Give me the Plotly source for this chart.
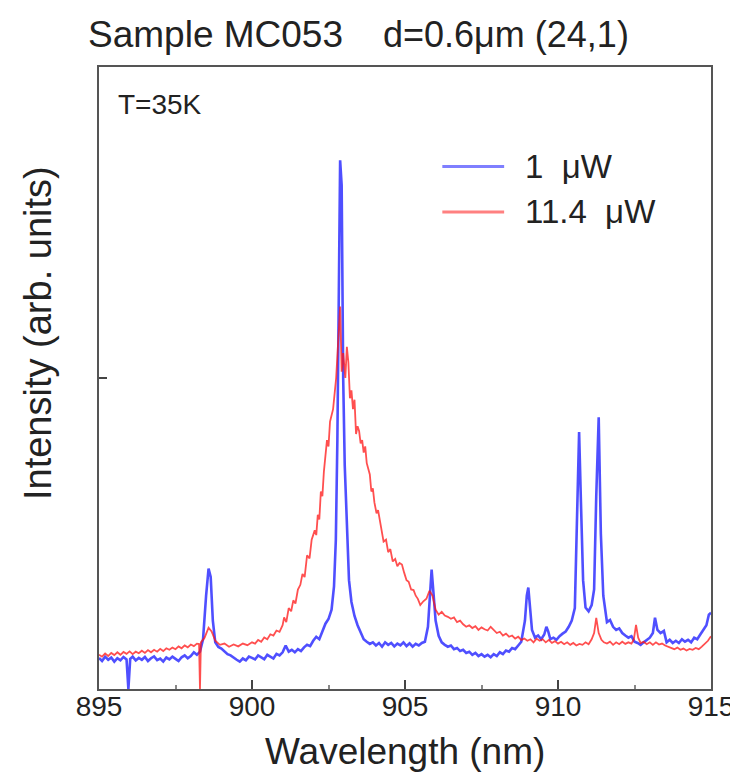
import plotly.graph_objects as go

# ---- data ----
blue_wl = [895.0, 895.1, 895.2, 895.3, 895.4, 895.5, 895.6, 895.7, 895.8, 895.9, 895.96, 896.02,
           896.1, 896.2, 896.3, 896.4, 896.5, 896.6, 896.7, 896.8, 896.9, 897.0, 897.1, 897.2,
           897.3, 897.4, 897.5, 897.6, 897.7, 897.8, 897.9, 898.0, 898.1, 898.2, 898.3,
           898.4, 898.5, 898.58, 898.65, 898.72, 898.8, 898.9, 899.0, 899.1, 899.2, 899.3, 899.4,
           899.5, 899.6, 899.7, 899.8, 899.9, 900.0, 900.1, 900.2, 900.3, 900.4, 900.5, 900.6,
           900.7, 900.8, 900.9, 901.0, 901.1, 901.2, 901.3, 901.4, 901.5, 901.6, 901.7, 901.8,
           901.9, 902.0, 902.1, 902.2, 902.3, 902.4, 902.5, 902.6, 902.68, 902.74, 902.79, 902.84,
           902.88, 902.93, 902.98, 903.03, 903.1, 903.17, 903.25, 903.35, 903.45, 903.55, 903.65, 903.75,
           903.85, 903.95, 904.05, 904.15, 904.25, 904.35, 904.45, 904.55, 904.65, 904.75, 904.85, 904.95,
           905.05, 905.15, 905.25, 905.35, 905.45, 905.55, 905.65, 905.75, 905.82, 905.87, 905.93, 906.0,
           906.1, 906.2, 906.3, 906.4, 906.5, 906.6, 906.7, 906.8, 906.9, 907.0, 907.1, 907.2,
           907.3, 907.4, 907.5, 907.6, 907.7, 907.8, 907.9, 908.0, 908.1, 908.2, 908.3, 908.4,
           908.5, 908.6, 908.7, 908.8, 908.92, 908.98, 909.03, 909.08, 909.15, 909.25, 909.35, 909.45,
           909.55, 909.62, 909.68, 909.75, 909.85, 909.95, 910.05, 910.15, 910.25, 910.35, 910.45, 910.55,
           910.62, 910.69, 910.75, 910.82, 910.9, 911.0, 911.1, 911.18, 911.25, 911.33, 911.4, 911.48,
           911.6, 911.7, 911.8, 911.9, 912.0, 912.1, 912.2, 912.3, 912.4, 912.5, 912.6, 912.7,
           912.8, 912.9, 913.0, 913.1, 913.17, 913.25, 913.35, 913.46, 913.55, 913.65, 913.75, 913.85,
           913.95, 914.05, 914.15, 914.25, 914.35, 914.45, 914.55, 914.65, 914.75, 914.85, 914.93, 915.0]
blue_int = [0.100, 0.090, 0.104, 0.094, 0.101, 0.088, 0.099, 0.092, 0.103, 0.095, 0.000, 0.097,
            0.104, 0.092, 0.100, 0.094, 0.103, 0.090, 0.099, 0.105, 0.093, 0.098, 0.088, 0.101,
            0.095, 0.104, 0.097, 0.090, 0.102, 0.108, 0.099, 0.106, 0.118, 0.110, 0.120,
            0.160, 0.300, 0.387, 0.360, 0.220, 0.150, 0.135, 0.130, 0.122, 0.112, 0.108, 0.100,
            0.094, 0.088, 0.098, 0.092, 0.104, 0.100, 0.095, 0.108, 0.101, 0.096, 0.110, 0.104,
            0.098, 0.113, 0.108, 0.118, 0.140, 0.120, 0.126, 0.118, 0.128, 0.122, 0.134, 0.142,
            0.138, 0.155, 0.168, 0.160, 0.185, 0.210, 0.225, 0.255, 0.330, 0.480, 0.800, 1.250,
            1.700, 1.620, 1.000, 0.720, 0.500, 0.350, 0.280, 0.235, 0.205, 0.180, 0.160, 0.152,
            0.145, 0.150, 0.140, 0.148, 0.136, 0.150, 0.142, 0.148, 0.137, 0.146, 0.140, 0.150,
            0.138, 0.147, 0.136, 0.145, 0.140, 0.148, 0.152, 0.200, 0.330, 0.384, 0.310, 0.220,
            0.171, 0.150, 0.142, 0.136, 0.140, 0.128, 0.132, 0.122, 0.126, 0.116, 0.120, 0.110,
            0.116, 0.106, 0.112, 0.104, 0.110, 0.102, 0.112, 0.106, 0.118, 0.112, 0.124, 0.120,
            0.132, 0.128, 0.140, 0.152, 0.220, 0.300, 0.326, 0.260, 0.190, 0.165, 0.172, 0.160,
            0.175, 0.200, 0.185, 0.160, 0.165, 0.158, 0.170, 0.178, 0.185, 0.200, 0.220, 0.260,
            0.550, 0.826, 0.600, 0.350, 0.262, 0.250, 0.270, 0.320, 0.620, 0.874, 0.500, 0.300,
            0.215, 0.222, 0.200, 0.190, 0.195, 0.180, 0.172, 0.165, 0.170, 0.152, 0.148, 0.142,
            0.150, 0.158, 0.165, 0.180, 0.229, 0.190, 0.180, 0.187, 0.150, 0.158, 0.148, 0.155,
            0.148, 0.160, 0.152, 0.158, 0.150, 0.165, 0.160, 0.175, 0.190, 0.205, 0.239, 0.245]

red_wl = [895.0, 895.1, 895.2, 895.3, 895.4, 895.5, 895.6, 895.7, 895.8, 895.9, 896.0, 896.1,
          896.2, 896.3, 896.4, 896.5, 896.6, 896.7, 896.8, 896.9, 897.0, 897.1, 897.2, 897.3,
          897.4, 897.5, 897.6, 897.7, 897.8, 897.9, 898.0, 898.1, 898.2, 898.27, 898.3, 898.33,
          898.45, 898.58, 898.68, 898.8, 898.95, 899.1, 899.25, 899.4, 899.55, 899.7, 899.85, 900.0,
          900.1, 900.2, 900.3, 900.4, 900.5, 900.6, 900.7, 900.8, 900.9, 901.0, 901.05, 901.12,
          901.2, 901.28, 901.35, 901.42, 901.5, 901.58, 901.65, 901.72, 901.8, 901.88, 901.95, 902.05,
          902.1, 902.15, 902.2, 902.25, 902.3, 902.35, 902.45, 902.5, 902.55, 902.65, 902.75, 902.82,
          902.88, 902.93, 902.98, 903.05, 903.1, 903.15, 903.2, 903.25, 903.3, 903.35, 903.4, 903.45,
          903.5, 903.55, 903.6, 903.65, 903.7, 903.75, 903.8, 903.85, 903.9, 903.95, 904.0, 904.07,
          904.12, 904.2, 904.25, 904.3, 904.38, 904.45, 904.52, 904.6, 904.68, 904.75, 904.82, 904.9,
          904.97, 905.05, 905.12, 905.2, 905.28, 905.35, 905.42, 905.5, 905.6, 905.7, 905.8, 905.9,
          906.0, 906.1, 906.2, 906.3, 906.4, 906.5, 906.6, 906.7, 906.8, 906.9, 907.0, 907.1,
          907.2, 907.3, 907.4, 907.5, 907.6, 907.7, 907.8, 907.9, 908.0, 908.1, 908.2, 908.3,
          908.4, 908.5, 908.6, 908.7, 908.8, 908.9, 909.0, 909.1, 909.2, 909.3, 909.4, 909.5,
          909.6, 909.7, 909.8, 909.9, 910.0, 910.1, 910.2, 910.3, 910.4, 910.5, 910.6, 910.7,
          910.8, 910.9, 911.0, 911.1, 911.18, 911.25, 911.33, 911.42, 911.5, 911.6, 911.7, 911.8,
          911.9, 912.0, 912.1, 912.2, 912.3, 912.4, 912.48, 912.55, 912.62, 912.7, 912.8, 912.9,
          913.0, 913.1, 913.2, 913.3, 913.4, 913.5, 913.6, 913.7, 913.8, 913.9, 914.0, 914.1,
          914.2, 914.3, 914.4, 914.5, 914.6, 914.7, 914.8, 914.9, 915.0]
red_int = [0.110, 0.104, 0.114, 0.106, 0.116, 0.109, 0.118, 0.110, 0.119, 0.113, 0.121, 0.112,
           0.120, 0.115, 0.123, 0.116, 0.125, 0.118, 0.126, 0.120, 0.129, 0.122, 0.131, 0.126,
           0.133, 0.128, 0.137, 0.131, 0.140, 0.134, 0.143, 0.138, 0.146, 0.145, 0.000, 0.150,
           0.165, 0.197, 0.185, 0.155, 0.142, 0.146, 0.136, 0.143, 0.137, 0.146, 0.141, 0.150,
           0.146, 0.158, 0.152, 0.166, 0.160, 0.176, 0.172, 0.188, 0.184, 0.205, 0.230, 0.215,
           0.260, 0.250, 0.285, 0.275, 0.320, 0.335, 0.370, 0.360, 0.430, 0.420, 0.480, 0.510,
           0.495, 0.560, 0.545, 0.635, 0.620, 0.700, 0.800, 0.780, 0.860, 0.900, 1.000, 1.150,
           1.230, 1.020, 1.080, 1.000, 1.100, 1.050, 0.935, 0.960, 0.900, 0.930, 0.820, 0.845,
           0.830, 0.790, 0.800, 0.760, 0.780, 0.726, 0.710, 0.690, 0.635, 0.645, 0.600, 0.565,
           0.575, 0.530, 0.510, 0.474, 0.480, 0.440, 0.450, 0.410, 0.418, 0.395, 0.405, 0.400,
           0.375, 0.350, 0.345, 0.320, 0.318, 0.300, 0.290, 0.270, 0.282, 0.290, 0.316, 0.300,
           0.255, 0.239, 0.248, 0.236, 0.232, 0.226, 0.230, 0.215, 0.220, 0.208, 0.200, 0.205,
           0.196, 0.202, 0.190, 0.198, 0.192, 0.188, 0.200, 0.190, 0.180, 0.184, 0.172, 0.178,
           0.168, 0.172, 0.162, 0.168, 0.158, 0.162, 0.155, 0.160, 0.150, 0.162, 0.155, 0.160,
           0.150, 0.158, 0.148, 0.154, 0.146, 0.152, 0.144, 0.150, 0.142, 0.148, 0.140, 0.145,
           0.142, 0.150, 0.144, 0.160, 0.180, 0.229, 0.180, 0.158, 0.150, 0.146, 0.152, 0.142,
           0.150, 0.144, 0.152, 0.145, 0.150, 0.146, 0.160, 0.206, 0.165, 0.148, 0.152, 0.144,
           0.150, 0.142, 0.150, 0.143, 0.146, 0.140, 0.136, 0.132, 0.128, 0.133, 0.126, 0.130,
           0.124, 0.129, 0.126, 0.132, 0.128, 0.136, 0.145, 0.155, 0.170]

series_names = ["1\u00a0\u00a0μW", "11.4\u00a0\u00a0μW"]
x_ticks = [895, 900, 905, 910, 915]
title_left = "Sample MC053"
title_right = "d=0.6μm (24,1)"
temp_label = "T=35K"

FONT = "Liberation Sans, Arial, sans-serif"
TXT = "#222222"
BLUE = "rgba(20,20,255,0.75)"
RED = "rgba(255,20,20,0.75)"

fig = go.Figure()
fig.add_trace(go.Scatter(x=blue_wl, y=blue_int, mode="lines", name=series_names[0],
                         line=dict(color=BLUE, width=2.6), showlegend=False))
fig.add_trace(go.Scatter(x=red_wl, y=red_int, mode="lines", name=series_names[1],
                         line=dict(color=RED, width=1.8), showlegend=False))

# manual legend
leg = [(0.840, "#7f7fff", series_names[0]), (0.767, "#ff8080", series_names[1])]
for yy, col, nm in leg:
    fig.add_shape(type="line", xref="paper", yref="paper", x0=0.561, x1=0.662, y0=yy, y1=yy,
                  line=dict(color=col, width=3))
    fig.add_annotation(xref="paper", yref="paper", x=0.693, y=yy, text=nm, showarrow=False,
                       xanchor="left", yanchor="middle", font=dict(family=FONT, size=33, color=TXT))

fig.add_annotation(xref="paper", yref="paper", x=-0.021, y=1.052, text=title_left, showarrow=False,
                   xanchor="left", yanchor="middle", font=dict(family=FONT, size=37, color=TXT))
fig.add_annotation(xref="paper", yref="paper", x=0.46, y=1.052, text=title_right, showarrow=False,
                   xanchor="left", yanchor="middle", font=dict(family=FONT, size=36, color=TXT))
fig.add_annotation(xref="paper", yref="paper", x=0.027, y=0.939, text=temp_label, showarrow=False,
                   xanchor="left", yanchor="middle", font=dict(family=FONT, size=28, color=TXT))
fig.add_annotation(xref="paper", yref="paper", x=0.5, y=-0.101, text="Wavelength (nm)", showarrow=False,
                   xanchor="center", yanchor="middle", font=dict(family=FONT, size=37, color=TXT))
fig.add_annotation(xref="paper", yref="paper", x=-0.10, y=0.572, text="Intensity (arb. units)",
                   showarrow=False, textangle=-90, xanchor="center", yanchor="middle",
                   font=dict(family=FONT, size=38, color=TXT))

fig.update_layout(
    width=738, height=780,
    margin=dict(l=91, r=25, t=59, b=99),
    paper_bgcolor="white", plot_bgcolor="white",
    font=dict(family=FONT, color=TXT),
)
fig.update_xaxes(range=[895, 915], tickvals=x_ticks, ticktext=[str(t) for t in x_ticks],
                 ticks="inside", ticklen=9, tickwidth=1.5, tickcolor="#444",
                 minor=dict(ticks="inside", ticklen=4, tickwidth=1.5, tickcolor="#888", dtick=2.5),
                 showline=True, linecolor="#555", linewidth=1.6, mirror=True,
                 showgrid=False, zeroline=False, ticklabelstandoff=-8,
                 tickfont=dict(family=FONT, size=28, color=TXT))
fig.update_yaxes(range=[0, 2.0], tickvals=[1], showticklabels=False,
                 ticks="inside", ticklen=8, tickwidth=1.5, tickcolor="#444",
                 showline=True, linecolor="#555", linewidth=1.6, mirror=True,
                 showgrid=False, zeroline=False)

fig.write_html("out.html")
